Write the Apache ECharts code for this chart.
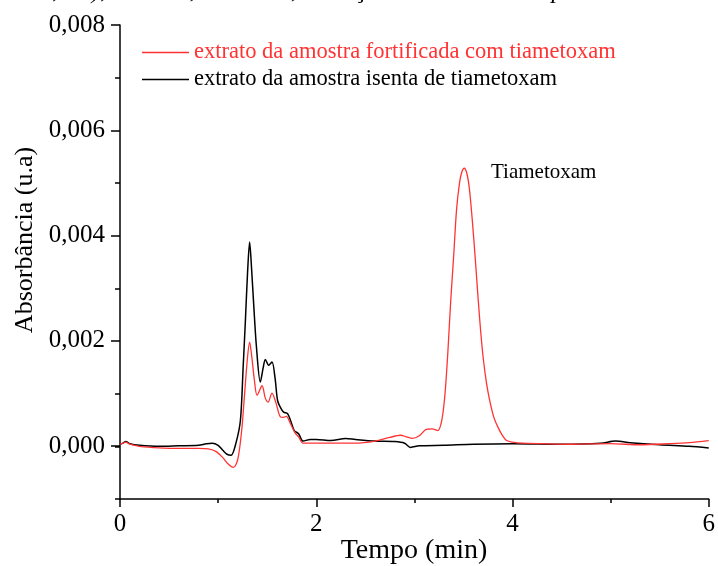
<!DOCTYPE html>
<html>
<head>
<meta charset="utf-8">
<script src="https://cdn.jsdelivr.net/npm/echarts@6/dist/echarts.min.js"></script>
<style>
  html, body { margin: 0; padding: 0; background: #fff; }
  #main { width: 718px; height: 566px; }
</style>
</head>
<body>
<div id="main"></div>
<script>
var redTime = [0, 0.03, 0.06, 0.1, 0.2, 0.4, 0.6, 0.8, 0.9, 0.98, 1.05, 1.1, 1.156, 1.2, 1.24, 1.27, 1.30, 1.321,
    1.34, 1.37, 1.397, 1.448, 1.48, 1.509, 1.549, 1.59, 1.634, 1.665, 1.695, 1.74, 1.786, 1.82, 1.865, 1.92,
    2.0, 2.2, 2.4, 2.6, 2.75, 2.86, 2.92, 2.98, 3.05, 3.12, 3.18, 3.24, 3.279, 3.31, 3.34, 3.37, 3.40, 3.43,
    3.46, 3.482, 3.509, 3.535, 3.56, 3.59, 3.625, 3.651, 3.675, 3.70, 3.735, 3.77, 3.81, 3.855, 3.9,
    3.94, 4.0, 4.1, 4.3, 4.6, 5.0, 5.3, 5.6, 5.8, 6.0];
var redAbs = [0.04, 0.06, 0.08, 0.04, 0.0, -0.03, -0.04, -0.04, -0.05, -0.10, -0.22, -0.33, -0.40, -0.25, 0.3, 1.0, 1.7, 1.98,
    1.75, 1.25, 0.97, 1.15, 0.92, 0.84, 1.01, 0.82, 0.56, 0.55, 0.57, 0.42, 0.25, 0.18, 0.06, 0.06,
    0.06, 0.06, 0.06, 0.10, 0.17, 0.21, 0.18, 0.15, 0.20, 0.32, 0.33, 0.30, 0.49, 0.95, 1.75, 2.75, 3.6, 4.5,
    5.0, 5.2, 5.28, 5.18, 4.9, 4.3, 3.45, 2.77, 2.2, 1.70, 1.2, 0.85, 0.55, 0.35, 0.2,
    0.11, 0.08, 0.06, 0.05, 0.04, 0.05, 0.03, 0.05, 0.07, 0.11];

var blackTime = [0, 0.03, 0.06, 0.1, 0.2, 0.4, 0.6, 0.8, 0.88, 0.94, 1.0, 1.05, 1.09, 1.132, 1.18, 1.227, 1.255, 1.278, 1.30, 1.321,
    1.34, 1.362, 1.39, 1.43, 1.46, 1.481, 1.515, 1.549, 1.58, 1.606, 1.64, 1.667, 1.708, 1.74, 1.776, 1.82, 1.865, 1.939,
    2.0, 2.15, 2.3, 2.4, 2.6, 2.8, 2.9, 2.96, 3.05, 3.3, 3.6, 4.0, 4.5, 4.9, 5.05, 5.2, 5.5, 5.8, 6.0];
var blackAbs = [0.04, 0.06, 0.09, 0.05, 0.02, 0.0, 0.01, 0.02, 0.05, 0.06, 0.02, -0.08, -0.15, -0.17, 0.05, 0.49, 1.5, 2.39, 3.3, 3.88,
    3.4, 2.71, 1.9, 1.22, 1.5, 1.65, 1.54, 1.60, 1.3, 0.87, 0.72, 0.65, 0.62, 0.48, 0.30, 0.24, 0.10, 0.13,
    0.13, 0.11, 0.15, 0.13, 0.10, 0.09, 0.06, -0.02, 0.01, 0.02, 0.04, 0.05, 0.04, 0.06, 0.10, 0.07, 0.03, 0.0, -0.03];

var seriesNames = ['extrato da amostra fortificada com tiametoxam', 'extrato da amostra isenta de tiametoxam'];
var xTicks = [0, 2, 4, 6];
var yTicks = [0, 0.002, 0.004, 0.006, 0.008];

function pairs(t, v) {
    var out = [];
    for (var i = 0; i < t.length; i++) out.push([t[i], v[i] / 1000]);
    return out;
}

var font = '"Liberation Serif", "Times New Roman", serif';
var red = '#ff3333';

var chart = echarts.init(document.getElementById('main'));
chart.setOption({
    animation: false,
    backgroundColor: '#fff',
    grid: [
        { left: 120, right: 8, top: 25, bottom: 67 },
        { left: 120, right: 8, top: 25, bottom: 120 }
    ],
    legend: {
        orient: 'vertical',
        left: 137,
        top: 36,
        icon: 'rect',
        itemWidth: 47,
        itemHeight: 1.5,
        itemGap: 4,
        textStyle: { fontFamily: font, fontSize: 22.5, color: '#000' },
        data: [
            { name: seriesNames[0], textStyle: { color: red } },
            { name: seriesNames[1], textStyle: { color: '#000' } }
        ]
    },
    xAxis: [
        {
            type: 'value', gridIndex: 0, min: xTicks[0], max: xTicks[xTicks.length - 1], interval: 2,
            axisLine: { onZero: false, lineStyle: { color: '#000', width: 1.5 } },
            axisTick: { length: 8, lineStyle: { color: '#000', width: 1.5 } },
            minorTick: { show: true, splitNumber: 2, length: 4, lineStyle: { color: '#000', width: 1.5 } },
            axisLabel: { fontFamily: font, fontSize: 25, color: '#000', margin: 13 },
            splitLine: { show: false }
        },
        { type: 'value', gridIndex: 1, min: 0, max: 6, show: false }
    ],
    yAxis: [
        {
            type: 'value', gridIndex: 0, min: -0.001, max: 0.008, interval: 0.001,
            axisLine: { show: true, onZero: false, lineStyle: { color: '#000', width: 1.5 } },
            axisTick: { show: true, length: 5, lineStyle: { color: '#000', width: 1.5 } },
            axisLabel: { show: false },
            splitLine: { show: false }
        },
        {
            type: 'value', gridIndex: 1, min: yTicks[0], max: yTicks[yTicks.length - 1], interval: 0.002,
            axisLine: { show: false },
            axisTick: { show: true, length: 9, lineStyle: { color: '#000', width: 1.5 } },
            axisLabel: {
                fontFamily: font, fontSize: 25, color: '#000', margin: 15,
                formatter: function (v) { return v.toFixed(3).replace('.', ','); }
            },
            splitLine: { show: false }
        }
    ],
    graphic: [
        {
            type: 'text', left: -4, top: -21,
            style: {
                text: 'tico 0,1%), vazão 1,0 mL/min, detecção a 254 nm e temperatura',
                font: 'italic 25px ' + font, fill: '#000'
            }
        },
        {
            type: 'text', x: 414, y: 551,
            style: { text: 'Tempo (min)', font: '28px ' + font, fill: '#000', align: 'center', verticalAlign: 'middle' }
        },
        {
            type: 'text', x: 25, y: 240, rotation: Math.PI / 2,
            style: { text: 'Absorbância (u.a)', font: '26px ' + font, fill: '#000', align: 'center', verticalAlign: 'middle' }
        },
        {
            type: 'text', x: 491, y: 172,
            style: { text: 'Tiametoxam', font: '21px ' + font, fill: '#000', verticalAlign: 'middle' }
        }
    ],
    series: [
        {
            name: seriesNames[0], type: 'line', xAxisIndex: 0, yAxisIndex: 0,
            data: pairs(redTime, redAbs), symbol: 'none', smooth: 0.3,
            lineStyle: { color: red, width: 1.3 }, itemStyle: { color: red }, z: 3
        },
        {
            name: seriesNames[1], type: 'line', xAxisIndex: 0, yAxisIndex: 0,
            data: pairs(blackTime, blackAbs), symbol: 'none', smooth: 0.3,
            lineStyle: { color: '#000', width: 1.5 }, itemStyle: { color: '#000' }, z: 2
        }
    ]
});
</script>
</body>
</html>
